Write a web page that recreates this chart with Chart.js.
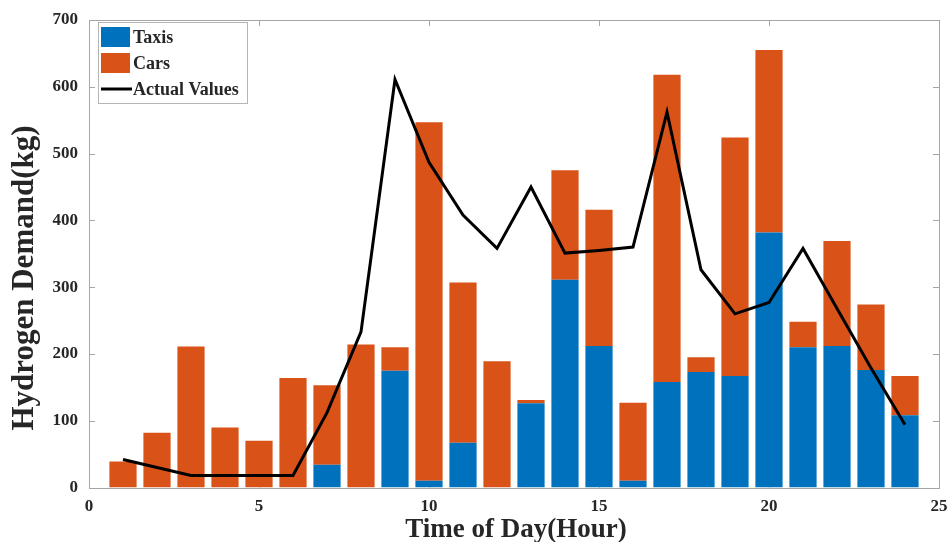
<!DOCTYPE html>
<html>
<head>
<meta charset="utf-8">
<script src="https://cdn.jsdelivr.net/npm/chart.js@4/dist/chart.umd.min.js"></script>
<style>
  html, body { margin: 0; padding: 0; background: #ffffff; }
  #wrap { width: 948px; height: 542px; }
</style>
</head>
<body>
<div id="wrap"><canvas id="chart" width="948" height="542"></canvas></div>
<script>
// Hourly hydrogen demand (kg), split by vehicle type, with the measured totals.
const hours  = [1, 2, 3, 4, 5, 6, 7, 8, 9, 10, 11, 12, 13, 14, 15, 16, 17, 18, 19, 20, 21, 22, 23, 24];
const taxis  = [0, 0, 0, 0, 0, 0, 34, 0, 175, 10, 67, 0, 126, 311, 212, 10, 158, 173, 167, 382, 210, 212, 176, 108];
const cars   = [39, 82, 211, 90, 70, 164, 119, 214, 35, 537, 240, 189, 5, 164, 204, 117, 460, 22, 357, 273, 38, 157, 98, 59];
const actual = [42, 30, 18, 18, 18, 18, 112, 233, 611, 487, 408, 358, 450, 351, 355, 360, 562, 326, 260, 277, 358, 268, 179, 94];

const xTicks = [0, 5, 10, 15, 20, 25];
const yTicks = [0, 100, 200, 300, 400, 500, 600, 700];

const BLUE = '#0072BD';
const ORANGE = '#D95319';
const TEXT = '#262626';
const AXIS = '#a6a6a6';
const SERIF = '"Liberation Serif", "Times New Roman", serif';

const pts = (ys) => hours.map((h, i) => ({ x: h, y: ys[i] }));

// Box around the plot area with inward-pointing tick marks on all four sides.
const axesBox = {
  id: 'axesBox',
  beforeDatasetsDraw(chart) {
    const { ctx, chartArea: a, scales } = chart;
    const len = 6;
    ctx.save();
    ctx.strokeStyle = AXIS;
    ctx.lineWidth = 1;
    ctx.strokeRect(Math.round(a.left) + 0.5, Math.round(a.top) + 0.5,
                   Math.round(a.right - a.left), Math.round(a.bottom - a.top));
    ctx.beginPath();
    scales.x.ticks.forEach(t => {
      const px = Math.round(scales.x.getPixelForValue(t.value)) + 0.5;
      ctx.moveTo(px, a.bottom); ctx.lineTo(px, a.bottom - len);
      ctx.moveTo(px, a.top); ctx.lineTo(px, a.top + len);
    });
    scales.y.ticks.forEach(t => {
      const py = Math.round(scales.y.getPixelForValue(t.value)) + 0.5;
      ctx.moveTo(a.left, py); ctx.lineTo(a.left + len, py);
      ctx.moveTo(a.right, py); ctx.lineTo(a.right - len, py);
    });
    ctx.stroke();
    ctx.restore();
  }
};

// Axis titles.
const axisTitles = {
  id: 'axisTitles',
  afterDraw(chart) {
    const { ctx, chartArea: a } = chart;
    ctx.save();
    ctx.fillStyle = TEXT;
    ctx.textAlign = 'center';
    ctx.textBaseline = 'middle';
    ctx.font = 'bold 27px ' + SERIF;
    ctx.fillText('Time of Day(Hour)', (a.left + a.right) / 2 + 2, 530);
    ctx.translate(25, 278);
    ctx.rotate(-Math.PI / 2);
    ctx.font = 'bold 31px ' + SERIF;
    ctx.fillText('Hydrogen Demand(kg)', 0, 0);
    ctx.restore();
  }
};

// Legend box in the upper-left corner of the plot.
const insetLegend = {
  id: 'insetLegend',
  afterDraw(chart) {
    const { ctx } = chart;
    const ds = chart.data.datasets;
    const x0 = 98, y0 = 22, w = 149, h = 81;
    ctx.save();
    ctx.fillStyle = '#ffffff';
    ctx.fillRect(x0, y0, w, h);
    ctx.strokeStyle = '#b5b5b5';
    ctx.lineWidth = 1;
    ctx.strokeRect(x0 + 0.5, y0 + 0.5, w, h);
    ctx.font = 'bold 18px ' + SERIF;
    ctx.textBaseline = 'middle';
    ctx.textAlign = 'left';
    const rows = [ds[1], ds[2], ds[0]];
    const rowY = [37, 63, 89];
    rows.forEach((d, i) => {
      const cy = rowY[i];
      if (d.type === 'line') {
        ctx.strokeStyle = d.borderColor;
        ctx.lineWidth = 3;
        ctx.beginPath();
        ctx.moveTo(101, cy); ctx.lineTo(132, cy);
        ctx.stroke();
      } else {
        ctx.fillStyle = d.backgroundColor;
        ctx.fillRect(101, cy - 10, 29, 20);
      }
      ctx.fillStyle = TEXT;
      ctx.fillText(d.label, 133, cy + 1);
    });
    ctx.restore();
  }
};

new Chart(document.getElementById('chart'), {
  data: {
    datasets: [
      {
        type: 'line', label: 'Actual Values', data: pts(actual),
        borderColor: '#000000', backgroundColor: '#000000', borderWidth: 3,
        pointRadius: 0, tension: 0, stack: 'actual', order: 0
      },
      {
        type: 'bar', label: 'Taxis', data: pts(taxis),
        backgroundColor: BLUE, borderWidth: 0, stack: 'demand', order: 1,
        barPercentage: 0.8, categoryPercentage: 1.0
      },
      {
        type: 'bar', label: 'Cars', data: pts(cars),
        backgroundColor: ORANGE, borderWidth: 0, stack: 'demand', order: 1,
        barPercentage: 0.8, categoryPercentage: 1.0
      }
    ]
  },
  options: {
    responsive: false,
    animation: false,
    layout: { padding: { top: 20, right: 9, left: 0, bottom: 0 } },
    plugins: { legend: { display: false }, tooltip: { enabled: false } },
    scales: {
      x: {
        type: 'linear', min: 0, max: 25, stacked: true, offset: false,
        afterBuildTicks: (s) => { s.ticks = xTicks.map(v => ({ value: v })); },
        afterFit: (s) => { s.height = 54.5; s.paddingLeft = 0; s.paddingRight = 0; },
        grid: { display: false, drawTicks: false },
        border: { display: false },
        ticks: { color: TEXT, font: { family: SERIF, size: 17, weight: 'bold' }, padding: 9, maxRotation: 0 }
      },
      y: {
        min: 0, max: 700, stacked: true,
        afterBuildTicks: (s) => { s.ticks = yTicks.map(v => ({ value: v })); },
        afterFit: (s) => { s.width = 89; s.paddingTop = 0; s.paddingBottom = 0; },
        grid: { display: false, drawTicks: false },
        border: { display: false },
        ticks: { color: TEXT, font: { family: SERIF, size: 17, weight: 'bold' }, padding: 11 }
      }
    }
  },
  plugins: [axesBox, axisTitles, insetLegend]
});
</script>
</body>
</html>
